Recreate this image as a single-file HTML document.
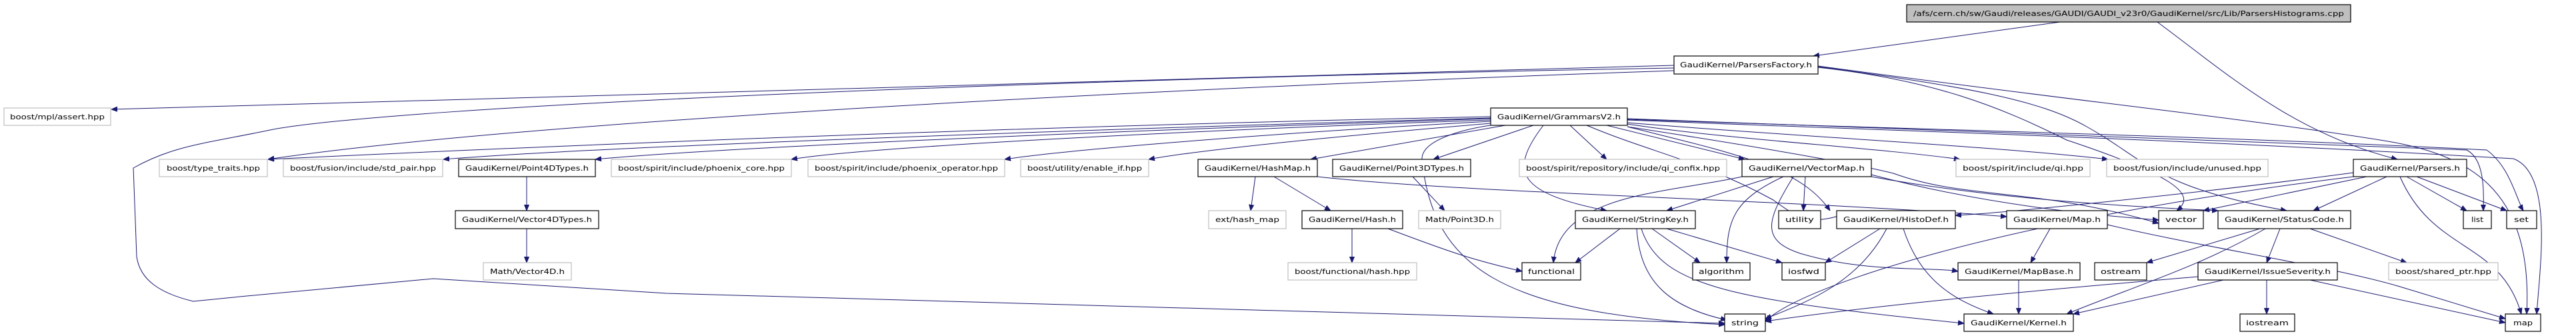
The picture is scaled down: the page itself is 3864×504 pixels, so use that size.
<!DOCTYPE html>
<html><head><meta charset="utf-8"><style>
html,body{margin:0;padding:0;background:#fff;}
svg{display:block}
text{font-family:"DejaVu Sans","Liberation Sans",sans-serif;font-size:11px;fill:#000}
.b{fill:#fff;stroke:#000;stroke-width:1.2}
.g{fill:#fff;stroke:#bfbfbf;stroke-width:1.2}
.t{fill:#bfbfbf;stroke:#000;stroke-width:1.2}
path{fill:none;stroke:#191970;stroke-width:1}
</style></head><body>
<svg width="3864" height="504" viewBox="0 0 3864 504" xmlns="http://www.w3.org/2000/svg">
<defs><marker id="a" viewBox="0 0 10 10" refX="10" refY="5" markerWidth="9" markerHeight="9" orient="auto" markerUnits="userSpaceOnUse"><path d="M0,1 L10,5 L0,9 z" style="fill:#191970;stroke:#191970"/></marker></defs>
<g marker-end="url(#a)">
<path d="M3090,33 L2720,84"/>
<path d="M3236,33 C3340,110 3440,200 3596,239"/>
<path d="M2511,98 L167,164"/>
<path d="M2511,102 C1500,120 600,160 410,194 C310,215 260,218 200,252 L205,385 C210,420 240,440 290,452 L370,444 L650,418 L1000,440 L2587,485"/>
<path d="M2511,106 C1800,130 800,180 402,239"/>
<path d="M2727,101 C2900,120 3000,160 3100,210 C3250,260 3300,290 3265,316"/>
<path d="M2727,100 C2950,130 3060,150 3130,190 C3220,240 3230,280 3430,316"/>
<path d="M2727,99 C3100,150 3350,175 3570,210 C3700,230 3800,280 3790,471"/>
<path d="M2236,175 C1500,190 800,220 402,239"/>
<path d="M2236,177 C1600,195 900,220 665,239"/>
<path d="M2236,178 C1700,195 1100,220 893,239"/>
<path d="M2236,180 C1800,195 1300,220 1187,239"/>
<path d="M2236,182 C1900,200 1600,225 1507,239"/>
<path d="M2236,185 C2000,205 1800,225 1723,239"/>
<path d="M2258,188 L1966,239"/>
<path d="M2300,188 L2150,239"/>
<path d="M2355,188 L2410,239"/>
<path d="M2410,188 L2617,239"/>
<path d="M2315,188 C2260,260 2280,290 2410,316"/>
<path d="M2441,186 C2600,210 2800,220 2940,239"/>
<path d="M2441,184 C2700,205 3000,220 3162,239"/>
<path d="M2441,180 C2800,195 3200,205 3770,238 C3830,260 3810,400 3805,471"/>
<path d="M2441,178 C2900,195 3300,210 3700,225 C3730,240 3725,300 3725,316"/>
<path d="M2441,179 C2900,195 3350,205 3730,225 C3765,250 3775,300 3785,316"/>
<path d="M2441,190 C2700,230 2800,250 2840,260 C2950,300 3050,280 3238,335"/>
<path d="M2441,190 C2600,230 2700,250 2745,316"/>
<path d="M2236,188 C2220,190 2130,205 2133,240 C2150,400 2250,470 2587,487"/>
<path d="M2380,188 C2480,230 2550,240 2660,300 C2700,330 2720,340 2780,316"/>
<path d="M790,265 L790,316"/>
<path d="M790,343 L790,394"/>
<path d="M1883,265 L1876,316"/>
<path d="M1911,265 L1996,316"/>
<path d="M1976,265 C2200,290 2700,300 3010,325"/>
<path d="M2028,343 L2028,394"/>
<path d="M2082,343 C2180,380 2210,390 2283,407"/>
<path d="M2119,265 L2167,316"/>
<path d="M2430,343 L2363,394"/>
<path d="M2478,343 L2550,394"/>
<path d="M2500,343 L2673,394"/>
<path d="M2455,343 C2460,420 2500,460 2590,480"/>
<path d="M2462,343 C2490,430 2600,450 2946,485"/>
<path d="M2613,265 C2500,290 2340,290 2330,394"/>
<path d="M2660,265 L2500,316"/>
<path d="M2675,265 C2600,300 2590,330 2590,394"/>
<path d="M2708,265 L2705,316"/>
<path d="M2690,265 C2650,330 2640,360 2700,380 C2800,410 2900,400 2937,407"/>
<path d="M2807,262 C2950,300 3100,320 3238,330"/>
<path d="M2807,265 C3000,300 3200,310 3327,316"/>
<path d="M2820,343 L2738,394"/>
<path d="M2830,343 C2790,420 2720,450 2648,478"/>
<path d="M2855,343 C2880,420 2930,450 2990,471"/>
<path d="M3075,343 L3046,394"/>
<path d="M3161,337 C3300,370 3500,400 3600,430 C3700,460 3730,470 3758,478"/>
<path d="M3028,420 L3028,471"/>
<path d="M3530,259 C3300,290 3000,320 2933,323"/>
<path d="M3530,265 C3000,330 2700,430 2648,482"/>
<path d="M3550,265 L3305,316"/>
<path d="M3580,265 L3470,316"/>
<path d="M3610,265 L3700,316"/>
<path d="M3625,265 L3760,316"/>
<path d="M3600,265 C3650,380 3750,360 3782,471"/>
<path d="M3390,343 L3220,394"/>
<path d="M3420,343 L3400,394"/>
<path d="M3465,343 L3610,394"/>
<path d="M3398,343 C3300,400 3200,430 3100,471"/>
<path d="M3297,415 C3000,440 2800,460 2648,482"/>
<path d="M3335,420 L3110,471"/>
<path d="M3400,420 L3400,471"/>
<path d="M3465,420 L3758,484"/>
</g>
<rect class="t" x="2860" y="7" width="666" height="26"/><text x="2870" y="24" textLength="646" lengthAdjust="spacingAndGlyphs">/afs/cern.ch/sw/Gaudi/releases/GAUDI/GAUDI_v23r0/GaudiKernel/src/Lib/ParsersHistograms.cpp</text>
<rect class="b" x="2511" y="84" width="216" height="27"/><text x="2520" y="101" textLength="198" lengthAdjust="spacingAndGlyphs">GaudiKernel/ParsersFactory.h</text>
<rect class="g" x="6" y="162" width="160" height="26"/><text x="15" y="179" textLength="142" lengthAdjust="spacingAndGlyphs">boost/mpl/assert.hpp</text>
<rect class="b" x="2236" y="162" width="205" height="26"/><text x="2246" y="179" textLength="185" lengthAdjust="spacingAndGlyphs">GaudiKernel/GrammarsV2.h</text>
<rect class="g" x="239" y="239" width="162" height="26"/><text x="250" y="256" textLength="140" lengthAdjust="spacingAndGlyphs">boost/type_traits.hpp</text>
<rect class="g" x="425" y="239" width="239" height="26"/><text x="435" y="256" textLength="219" lengthAdjust="spacingAndGlyphs">boost/fusion/include/std_pair.hpp</text>
<rect class="b" x="688" y="239" width="205" height="26"/><text x="698" y="256" textLength="185" lengthAdjust="spacingAndGlyphs">GaudiKernel/Point4DTypes.h</text>
<rect class="g" x="917" y="239" width="270" height="26"/><text x="927" y="256" textLength="250" lengthAdjust="spacingAndGlyphs">boost/spirit/include/phoenix_core.hpp</text>
<rect class="g" x="1212" y="239" width="295" height="26"/><text x="1222" y="256" textLength="275" lengthAdjust="spacingAndGlyphs">boost/spirit/include/phoenix_operator.hpp</text>
<rect class="g" x="1531" y="239" width="192" height="26"/><text x="1541" y="256" textLength="172" lengthAdjust="spacingAndGlyphs">boost/utility/enable_if.hpp</text>
<rect class="b" x="1797" y="239" width="179" height="26"/><text x="1807" y="256" textLength="159" lengthAdjust="spacingAndGlyphs">GaudiKernel/HashMap.h</text>
<rect class="b" x="1999" y="239" width="207" height="26"/><text x="2009" y="256" textLength="187" lengthAdjust="spacingAndGlyphs">GaudiKernel/Point3DTypes.h</text>
<rect class="g" x="2279" y="239" width="311" height="26"/><text x="2289" y="256" textLength="291" lengthAdjust="spacingAndGlyphs">boost/spirit/repository/include/qi_confix.hpp</text>
<rect class="b" x="2613" y="239" width="194" height="26"/><text x="2623" y="256" textLength="174" lengthAdjust="spacingAndGlyphs">GaudiKernel/VectorMap.h</text>
<rect class="g" x="2934" y="239" width="201" height="26"/><text x="2944" y="256" textLength="181" lengthAdjust="spacingAndGlyphs">boost/spirit/include/qi.hpp</text>
<rect class="g" x="3160" y="239" width="242" height="26"/><text x="3170" y="256" textLength="222" lengthAdjust="spacingAndGlyphs">boost/fusion/include/unused.hpp</text>
<rect class="b" x="3530" y="239" width="170" height="26"/><text x="3540" y="256" textLength="150" lengthAdjust="spacingAndGlyphs">GaudiKernel/Parsers.h</text>
<rect class="b" x="683" y="316" width="215" height="27"/><text x="693" y="333" textLength="195" lengthAdjust="spacingAndGlyphs">GaudiKernel/Vector4DTypes.h</text>
<rect class="g" x="1813" y="316" width="116" height="27"/><text x="1823" y="333" textLength="96" lengthAdjust="spacingAndGlyphs">ext/hash_map</text>
<rect class="b" x="1953" y="316" width="151" height="27"/><text x="1963" y="333" textLength="131" lengthAdjust="spacingAndGlyphs">GaudiKernel/Hash.h</text>
<rect class="g" x="2128" y="316" width="123" height="27"/><text x="2138" y="333" textLength="103" lengthAdjust="spacingAndGlyphs">Math/Point3D.h</text>
<rect class="b" x="2363" y="316" width="180" height="27"/><text x="2373" y="333" textLength="160" lengthAdjust="spacingAndGlyphs">GaudiKernel/StringKey.h</text>
<rect class="b" x="2668" y="316" width="63" height="27"/><text x="2678" y="333" textLength="43" lengthAdjust="spacingAndGlyphs">utility</text>
<rect class="b" x="2755" y="316" width="178" height="27"/><text x="2765" y="333" textLength="158" lengthAdjust="spacingAndGlyphs">GaudiKernel/HistoDef.h</text>
<rect class="b" x="3010" y="316" width="151" height="27"/><text x="3020" y="333" textLength="131" lengthAdjust="spacingAndGlyphs">GaudiKernel/Map.h</text>
<rect class="b" x="3238" y="316" width="67" height="27"/><text x="3248" y="333" textLength="47" lengthAdjust="spacingAndGlyphs">vector</text>
<rect class="b" x="3327" y="316" width="199" height="27"/><text x="3337" y="333" textLength="179" lengthAdjust="spacingAndGlyphs">GaudiKernel/StatusCode.h</text>
<rect class="b" x="3695" y="316" width="42" height="27"/><text x="3707" y="333" textLength="18" lengthAdjust="spacingAndGlyphs">list</text>
<rect class="b" x="3760" y="316" width="45" height="27"/><text x="3771" y="333" textLength="22" lengthAdjust="spacingAndGlyphs">set</text>
<rect class="g" x="725" y="394" width="132" height="26"/><text x="735" y="411" textLength="112" lengthAdjust="spacingAndGlyphs">Math/Vector4D.h</text>
<rect class="g" x="1932" y="394" width="193" height="26"/><text x="1942" y="411" textLength="173" lengthAdjust="spacingAndGlyphs">boost/functional/hash.hpp</text>
<rect class="b" x="2283" y="394" width="88" height="26"/><text x="2292" y="411" textLength="70" lengthAdjust="spacingAndGlyphs">functional</text>
<rect class="b" x="2539" y="394" width="86" height="26"/><text x="2548" y="411" textLength="68" lengthAdjust="spacingAndGlyphs">algorithm</text>
<rect class="b" x="2673" y="394" width="65" height="26"/><text x="2682" y="411" textLength="47" lengthAdjust="spacingAndGlyphs">iosfwd</text>
<rect class="b" x="2937" y="394" width="183" height="26"/><text x="2947" y="411" textLength="163" lengthAdjust="spacingAndGlyphs">GaudiKernel/MapBase.h</text>
<rect class="b" x="3142" y="394" width="78" height="26"/><text x="3151" y="411" textLength="60" lengthAdjust="spacingAndGlyphs">ostream</text>
<rect class="b" x="3297" y="394" width="209" height="26"/><text x="3307" y="411" textLength="189" lengthAdjust="spacingAndGlyphs">GaudiKernel/IssueSeverity.h</text>
<rect class="g" x="3583" y="394" width="164" height="26"/><text x="3593" y="411" textLength="144" lengthAdjust="spacingAndGlyphs">boost/shared_ptr.hpp</text>
<rect class="b" x="2587" y="471" width="61" height="26"/><text x="2597" y="488" textLength="41" lengthAdjust="spacingAndGlyphs">string</text>
<rect class="b" x="2946" y="471" width="164" height="26"/><text x="2956" y="488" textLength="144" lengthAdjust="spacingAndGlyphs">GaudiKernel/Kernel.h</text>
<rect class="b" x="3360" y="471" width="82" height="26"/><text x="3369" y="488" textLength="64" lengthAdjust="spacingAndGlyphs">iostream</text>
<rect class="b" x="3758" y="471" width="53" height="26"/><text x="3770" y="488" textLength="29" lengthAdjust="spacingAndGlyphs">map</text>
</svg>
</body></html>
